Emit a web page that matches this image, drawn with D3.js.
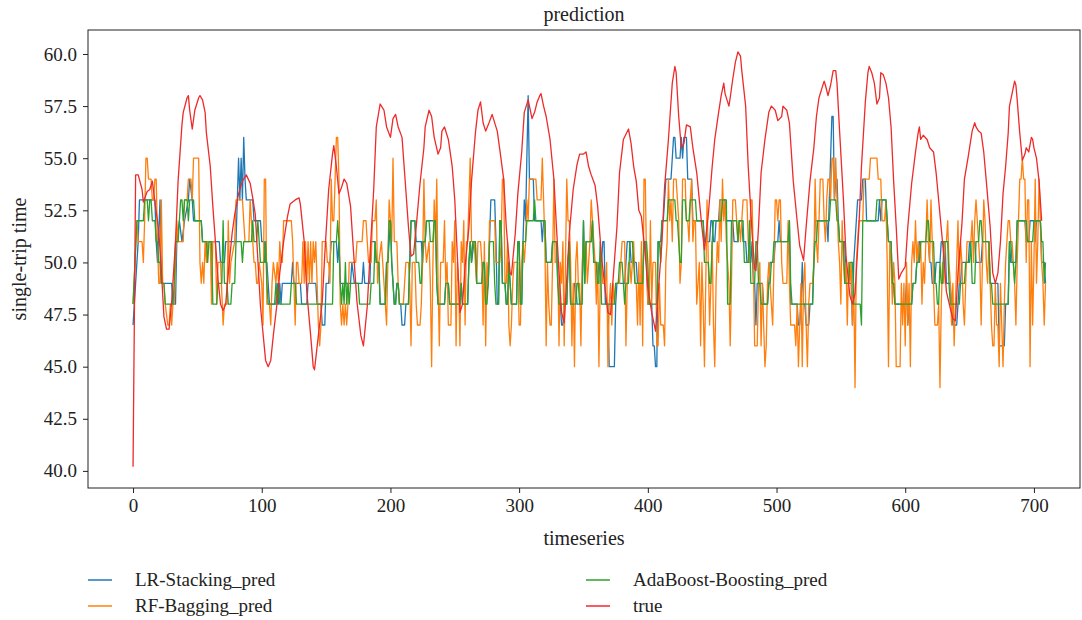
<!DOCTYPE html>
<html>
<head>
<meta charset="utf-8">
<script src="https://cdnjs.cloudflare.com/ajax/libs/d3/7.8.5/d3.min.js"></script>
<style>
  body { margin: 0; background: #fff; }
  svg text { font-family: "Liberation Serif", "DejaVu Serif", serif; fill: #222; }
</style>
</head>
<body>
<div id="chart-area"></div>
<script>
// prediction vs true single-trip time, values as [timestep, value]

var lrStacking = [[0,47],[3,50],[4,51],[5,53],[17,53],[18,51],[19,50],[21,53],[22,49],[30,49],[31,48],[33,48],[34,51],[36,52],[38,51],[40,52],[43,53],[44,54],[46,53],[47,52],[53,52],[54,51],[67,51],[68,50],[71,50],[72,51],[80,51],[81,53],[82,55],[83,53],[84,55],[85,53],[86,56],[87,54],[88,53],[93,53],[94,52],[99,52],[100,51],[102,51],[103,50],[104,50],[105,49],[106,48],[111,48],[112,49],[113,48],[114,49],[115,48],[116,49],[123,49],[124,50],[125,49],[130,49],[131,48],[135,48],[136,49],[142,49],[143,48],[146,48],[147,47],[149,47],[150,49],[152,49],[153,50],[154,51],[158,51],[159,50],[160,51],[161,49],[169,49],[170,50],[172,49],[178,49],[179,50],[180,49],[184,49],[185,51],[188,51],[189,50],[191,50],[192,48],[196,48],[197,50],[198,50],[200,52],[201,50],[203,48],[204,48],[205,49],[206,49],[207,48],[208,48],[209,47],[211,47],[212,48],[214,48],[215,50],[216,52],[219,52],[220,51],[224,51],[225,50],[226,51],[227,51],[228,52],[235,52],[236,49],[237,48],[242,48],[243,49],[245,49],[246,48],[254,48],[255,49],[256,48],[260,48],[261,50],[262,51],[263,50],[265,51],[266,51],[267,49],[271,49],[272,50],[273,50],[274,48],[276,49],[277,51],[278,53],[281,53],[282,51],[283,48],[284,48],[285,52],[286,52],[287,49],[289,49],[290,48],[291,48],[292,50],[293,49],[294,48],[298,48],[299,51],[300,51],[301,48],[302,48],[303,51],[304,53],[305,52],[306,55],[307,58],[308,54],[311,54],[312,52],[317,52],[318,51],[319,52],[320,52],[321,50],[325,50],[326,51],[329,51],[330,49],[332,48],[333,47],[334,47],[335,48],[337,48],[338,50],[339,51],[340,48],[342,48],[343,49],[344,49],[345,48],[348,48],[349,49],[350,52],[351,49],[352,51],[356,51],[357,52],[358,50],[360,50],[361,49],[362,50],[364,50],[365,51],[366,51],[367,48],[369,48],[370,45],[374,45],[375,48],[376,49],[382,49],[383,50],[384,51],[386,51],[387,50],[391,50],[392,49],[396,49],[397,51],[398,51],[399,50],[400,48],[403,48],[404,46],[405,46],[406,45],[407,45],[408,51],[410,51],[411,52],[412,52],[413,53],[414,54],[418,54],[419,55],[420,56],[421,56],[422,55],[425,55],[426,56],[427,55],[428,56],[430,56],[431,54],[434,54],[435,52],[443,52],[444,51],[448,51],[449,52],[450,52],[451,51],[452,51],[453,52],[455,52],[456,53],[460,53],[461,52],[466,52],[467,51],[470,51],[471,52],[473,52],[474,51],[476,51],[477,50],[480,50],[481,51],[482,49],[483,49],[484,47],[485,49],[489,49],[490,48],[493,48],[494,49],[495,50],[498,50],[499,51],[501,51],[502,52],[503,51],[509,51],[510,52],[511,48],[516,48],[517,47],[518,47],[519,48],[520,50],[521,48],[522,48],[523,47],[525,47],[526,48],[528,48],[529,50],[530,52],[539,52],[540,51],[541,53],[542,55],[543,57],[544,57],[545,53],[546,54],[547,54],[548,52],[549,51],[553,51],[554,49],[558,49],[559,47],[560,50],[561,51],[562,52],[563,53],[566,53],[567,54],[569,54],[570,52],[579,52],[580,53],[581,52],[582,53],[585,53],[586,52],[587,51],[589,51],[590,49],[591,49],[592,48],[600,48],[601,49],[602,47],[603,48],[605,48],[606,49],[608,49],[609,50],[610,50],[611,51],[618,51],[619,50],[620,50],[621,49],[623,49],[624,50],[627,50],[628,51],[631,51],[632,49],[635,49],[636,48],[637,47],[640,47],[641,48],[642,49],[643,49],[644,50],[649,50],[650,51],[654,51],[655,50],[659,50],[660,51],[665,51],[666,49],[672,49],[673,46],[677,46],[678,48],[680,48],[681,51],[682,50],[686,50],[687,52],[693,52],[694,51],[696,51],[697,52],[700,52],[701,51],[702,52],[705,52],[706,50],[708,50],[709,49]];

var rfBagging = [[0,48],[3,52],[4,51],[7,51],[8,50],[9,52],[10,55],[11,55],[12,54],[14,54],[15,53],[16,53],[17,54],[18,54],[19,51],[20,49],[21,49],[22,53],[23,49],[24,49],[25,48],[27,47],[28,47],[29,48],[30,47],[31,48],[32,48],[33,50],[34,52],[35,51],[39,51],[40,53],[42,53],[43,54],[45,54],[46,53],[47,55],[51,55],[52,50],[53,49],[54,50],[55,49],[56,51],[57,50],[58,51],[60,51],[61,48],[62,51],[64,51],[65,48],[66,50],[68,50],[70,47],[71,48],[73,48],[74,52],[75,49],[76,50],[79,51],[80,53],[85,53],[86,52],[87,51],[90,51],[91,53],[92,52],[94,50],[95,50],[96,49],[97,49],[98,50],[100,49],[101,47],[102,54],[103,54],[104,48],[106,48],[107,47],[108,49],[109,50],[111,49],[112,50],[113,49],[114,51],[115,50],[116,50],[117,52],[123,52],[124,51],[125,49],[126,47],[127,50],[128,50],[129,49],[131,49],[132,51],[133,49],[134,51],[135,49],[136,51],[137,49],[138,51],[139,49],[140,51],[141,50],[142,51],[143,49],[144,47],[145,46],[146,47],[147,51],[150,51],[151,50],[152,50],[153,49],[154,54],[155,52],[156,52],[157,54],[158,56],[159,56],[160,54],[161,48],[162,47],[163,48],[164,47],[165,48],[166,47],[167,48],[168,50],[173,50],[174,51],[178,51],[179,52],[181,52],[182,51],[183,50],[185,50],[186,52],[188,52],[189,53],[190,49],[191,50],[193,51],[194,50],[196,48],[197,47],[198,50],[199,53],[200,52],[201,51],[202,55],[203,51],[205,51],[206,49],[207,48],[210,48],[211,49],[212,50],[214,50],[215,49],[216,46],[217,50],[219,50],[220,48],[221,47],[223,47],[224,48],[225,50],[226,54],[227,51],[228,50],[230,51],[231,49],[232,45],[233,50],[234,53],[235,51],[236,54],[237,49],[238,46],[239,50],[241,50],[242,52],[243,49],[244,50],[245,47],[247,47],[248,51],[249,50],[250,52],[251,46],[252,50],[253,49],[254,46],[255,51],[256,50],[257,52],[258,47],[259,51],[260,51],[261,53],[262,55],[263,51],[265,51],[266,50],[267,49],[268,51],[270,51],[271,50],[272,47],[273,51],[274,46],[275,50],[276,49],[277,52],[281,52],[282,50],[285,50],[286,51],[287,54],[288,54],[289,49],[290,49],[291,51],[292,47],[293,46],[294,47],[295,49],[296,50],[299,50],[300,47],[301,47],[302,50],[303,51],[304,50],[305,51],[306,53],[307,52],[308,54],[313,54],[314,53],[317,53],[318,55],[319,53],[320,51],[321,46],[322,50],[323,48],[324,47],[325,47],[326,50],[327,54],[328,50],[330,50],[331,46],[332,50],[333,49],[334,51],[335,46],[336,50],[337,54],[338,52],[339,52],[340,50],[341,46],[342,49],[343,45],[344,50],[345,51],[346,49],[347,49],[348,46],[349,50],[350,51],[351,50],[352,51],[353,49],[354,50],[355,51],[356,53],[357,52],[358,51],[359,50],[360,48],[361,50],[362,45],[363,49],[364,50],[365,49],[367,49],[368,50],[369,45],[370,48],[371,49],[372,47],[373,49],[374,48],[375,49],[378,49],[379,50],[380,51],[382,51],[383,46],[384,49],[385,50],[386,50],[387,49],[388,50],[389,51],[390,49],[391,49],[392,47],[393,50],[394,47],[395,51],[396,46],[397,54],[398,54],[399,50],[400,48],[401,48],[402,52],[403,48],[404,50],[406,50],[407,46],[408,46],[409,49],[410,47],[412,47],[413,46],[414,50],[415,51],[416,54],[417,52],[418,53],[419,51],[420,54],[422,54],[423,53],[424,52],[425,49],[426,50],[427,54],[429,54],[430,52],[431,52],[432,51],[433,53],[434,54],[435,51],[436,52],[437,52],[438,48],[439,49],[440,50],[441,46],[442,50],[443,48],[444,45],[445,49],[446,53],[447,50],[448,47],[449,49],[450,51],[451,47],[452,45],[453,49],[454,51],[455,50],[456,53],[457,51],[458,54],[459,52],[460,53],[461,51],[462,50],[463,49],[464,46],[465,49],[466,53],[468,53],[469,52],[470,51],[471,52],[472,51],[473,52],[474,53],[477,53],[478,51],[479,50],[480,53],[481,53],[482,50],[483,46],[485,46],[486,49],[487,50],[488,46],[489,49],[490,47],[491,45],[492,46],[493,49],[494,50],[495,49],[496,48],[497,47],[498,50],[499,53],[500,53],[501,52],[502,53],[503,53],[504,50],[505,49],[508,49],[509,52],[510,49],[511,47],[514,47],[515,46],[516,48],[517,45],[518,47],[519,49],[520,45],[521,49],[522,50],[523,47],[524,45],[525,48],[526,49],[528,49],[529,50],[530,54],[531,51],[532,50],[533,52],[534,54],[536,54],[537,52],[538,51],[539,53],[540,54],[541,54],[542,53],[543,55],[544,55],[545,53],[546,55],[547,53],[548,51],[549,50],[550,48],[551,52],[552,50],[553,49],[554,50],[555,47],[556,50],[557,49],[558,50],[559,47],[560,49],[561,44],[562,50],[563,51],[564,52],[567,52],[568,54],[572,54],[573,55],[578,55],[579,54],[581,54],[582,52],[584,52],[585,53],[586,50],[587,45],[588,51],[589,50],[590,48],[591,50],[592,49],[593,45],[596,45],[597,49],[598,47],[599,49],[600,46],[601,50],[602,47],[603,49],[604,45],[605,50],[606,51],[607,50],[608,52],[609,50],[610,51],[611,50],[612,51],[613,48],[614,50],[615,49],[616,51],[617,53],[618,51],[619,50],[620,53],[621,51],[622,49],[623,47],[625,47],[626,48],[627,44],[628,48],[629,50],[630,49],[631,51],[632,51],[633,52],[634,50],[635,49],[636,47],[637,49],[638,46],[639,48],[640,50],[641,52],[642,49],[643,51],[644,50],[645,48],[646,47],[647,49],[648,51],[651,51],[652,52],[653,50],[654,52],[655,53],[656,52],[657,51],[658,50],[659,47],[660,50],[661,53],[662,52],[663,50],[664,49],[665,51],[666,49],[667,47],[668,46],[669,46],[670,49],[671,47],[672,47],[673,45],[674,49],[675,47],[676,45],[677,48],[678,50],[679,51],[680,52],[681,52],[682,51],[683,51],[684,50],[685,49],[686,47],[687,50],[688,52],[689,54],[690,54],[691,55],[692,54],[693,54],[694,50],[695,53],[696,53],[697,45],[698,51],[699,47],[700,50],[701,54],[702,49],[703,51],[704,54],[705,52],[706,50],[707,49],[708,47],[709,49]];

var adaBoosting = [[0,48],[3,52],[8,52],[9,53],[11,53],[12,52],[13,53],[14,53],[15,52],[17,52],[18,51],[19,51],[20,50],[21,50],[22,49],[24,49],[25,48],[31,48],[32,49],[33,51],[35,51],[36,52],[37,53],[38,53],[39,52],[40,53],[42,53],[43,52],[44,53],[47,53],[48,52],[53,52],[54,51],[57,51],[58,50],[59,51],[61,51],[62,48],[65,48],[66,49],[69,49],[70,52],[71,49],[73,49],[74,48],[76,48],[77,49],[79,49],[80,51],[84,51],[85,50],[86,51],[92,51],[93,52],[94,51],[96,51],[97,52],[98,51],[99,50],[102,50],[103,51],[104,49],[105,48],[110,48],[111,49],[112,48],[113,49],[114,48],[122,48],[123,49],[126,49],[127,48],[155,48],[156,51],[158,51],[159,52],[160,51],[161,49],[162,48],[163,49],[164,48],[165,50],[166,48],[167,49],[168,48],[169,49],[175,49],[176,48],[184,48],[185,49],[187,49],[188,51],[189,50],[191,50],[192,48],[196,48],[197,50],[198,50],[199,52],[200,52],[201,50],[202,49],[203,48],[204,48],[205,49],[206,49],[207,48],[214,48],[215,50],[216,52],[219,52],[220,50],[222,50],[223,49],[224,49],[225,51],[227,51],[228,52],[230,52],[231,51],[233,51],[234,52],[235,52],[236,49],[237,48],[242,48],[243,49],[245,49],[246,48],[254,48],[255,49],[256,48],[260,48],[261,50],[262,51],[263,50],[264,51],[266,51],[267,49],[271,49],[272,50],[273,50],[274,48],[275,48],[276,49],[277,51],[280,51],[281,49],[282,48],[284,48],[285,52],[286,52],[287,49],[289,49],[290,48],[291,48],[292,50],[293,49],[294,48],[298,48],[299,51],[300,51],[301,48],[302,48],[303,51],[305,51],[306,52],[311,52],[312,53],[313,52],[320,52],[321,50],[325,50],[326,51],[329,51],[330,49],[331,48],[337,48],[338,50],[339,51],[340,48],[344,48],[345,49],[346,49],[347,48],[349,48],[350,52],[351,49],[352,51],[356,51],[357,52],[358,50],[360,50],[361,49],[362,49],[363,51],[364,48],[374,48],[375,49],[377,49],[378,50],[380,50],[381,49],[382,48],[383,49],[385,49],[386,51],[388,51],[389,50],[390,49],[396,49],[397,51],[399,51],[400,50],[401,48],[407,48],[408,51],[409,51],[410,50],[411,52],[415,52],[416,53],[421,53],[422,52],[423,52],[424,51],[425,50],[426,50],[427,53],[429,53],[430,52],[432,52],[433,53],[437,53],[438,52],[443,52],[444,50],[447,50],[448,49],[449,49],[450,51],[451,52],[457,52],[458,53],[461,53],[462,48],[464,48],[465,52],[469,52],[470,51],[471,52],[474,52],[475,50],[478,50],[479,52],[480,49],[483,49],[484,51],[485,51],[486,49],[487,49],[488,48],[493,48],[494,49],[495,49],[496,50],[497,50],[498,51],[509,51],[510,52],[511,49],[512,48],[528,48],[529,50],[530,51],[531,51],[532,52],[541,52],[542,53],[546,53],[547,52],[548,52],[549,51],[552,51],[553,49],[556,49],[557,50],[559,50],[560,48],[565,48],[566,47],[567,52],[577,52],[578,53],[585,53],[586,52],[587,51],[589,51],[590,49],[591,49],[592,48],[605,48],[606,49],[608,49],[609,50],[611,50],[612,51],[616,51],[617,52],[618,52],[619,51],[622,51],[623,49],[624,49],[625,48],[626,48],[627,50],[628,49],[629,49],[630,51],[633,51],[634,49],[635,48],[642,48],[643,49],[646,49],[647,50],[650,50],[651,51],[652,49],[654,49],[655,51],[657,51],[658,52],[659,52],[660,51],[665,51],[666,49],[667,49],[668,48],[680,48],[681,51],[682,51],[683,50],[684,50],[685,49],[686,50],[687,52],[694,52],[695,51],[699,51],[700,52],[705,52],[706,51],[707,51],[708,49],[709,50]];

var trueValues = [[0,40.2],[2,54.2],[4,54.2],[7,53.5],[8,52.9],[11,53.4],[13,53.5],[15,53.9],[17,52.9],[20,51.5],[22,49.6],[24,47.4],[26,46.8],[28,46.8],[30,48.1],[33,51],[35,53.9],[38,56.6],[39,57.2],[42,57.9],[43,58],[44,57.3],[46,56.4],[48,57.3],[51,57.9],[52,58],[54,57.8],[56,57.2],[57,56.2],[60,54.6],[62,52.7],[64,51],[66,49.2],[68,48],[70,47.7],[72,48],[74,49.5],[77,51.4],[79,52.3],[82,53.3],[85,53.9],[88,54.2],[91,53.8],[93,53.1],[95,52.3],[99,47.9],[103,45.3],[105,45],[107,45.3],[109,46.5],[112,48.1],[114,49.5],[117,51],[120,52.2],[122,52.8],[126,53],[129,53.1],[130,52.8],[133,51],[135,48.6],[138,46.5],[140,45],[141,44.85],[144,46.5],[147,48.1],[149,50.4],[152,53.5],[155,55.2],[156,55.6],[158,54.6],[160,53.3],[162,53.6],[164,54],[166,53.8],[169,52.7],[171,50.8],[174,48.1],[177,46.5],[179,46],[182,47.9],[184,50.2],[187,53.5],[189,56.5],[192,57.6],[194,57.4],[195,57.3],[197,56.5],[200,56],[202,56.9],[204,57.1],[206,56.5],[209,56],[211,54.3],[214,51.7],[216,50.3],[218,50.4],[220,51.7],[223,53.8],[226,55.5],[227,56.5],[230,57.3],[232,57],[234,56],[237,55.2],[239,55.5],[240,56.3],[242,56.5],[245,55.9],[248,54.6],[250,53],[252,50.3],[254,47.6],[256,48],[258,49.8],[261,51.7],[263,53.9],[266,56.2],[268,57.3],[270,57.7],[272,56.7],[274,56.3],[276,56.6],[279,57.1],[280,56.9],[283,56.3],[285,55.4],[288,54],[290,51.7],[293,49.5],[294,49.4],[297,51.4],[299,53.3],[302,55.3],[304,57.2],[307,57.8],[310,56.9],[312,57.2],[314,57.7],[316,58],[317,58.1],[319,57.5],[321,57],[324,55.9],[327,54],[329,51.7],[331,49.5],[333,47.6],[335,47.1],[337,49.2],[339,51.4],[342,53.5],[345,54.7],[347,55.2],[350,55.2],[352,55.3],[354,54.6],[356,54.2],[359,53.7],[361,52.7],[364,50.3],[367,48.6],[369,47.6],[371,47.5],[373,49.2],[376,51.7],[378,54.3],[381,55.9],[385,56.4],[387,55.7],[389,54.6],[391,53.9],[393,52.5],[395,52.2],[398,50.4],[400,48.8],[403,47.6],[406,46.7],[408,48.5],[411,51],[413,53.6],[416,55.9],[419,58.6],[421,59.4],[422,59.1],[424,57],[426,55.5],[428,55.7],[430,56.6],[433,56.5],[435,55.5],[438,54.3],[440,53],[442,51.7],[444,50.6],[447,52.3],[450,54.6],[452,55.9],[455,57.2],[457,58],[459,58.6],[460,58.1],[463,57.5],[464,57.9],[466,58.8],[468,59.6],[470,60.1],[472,59.9],[473,59.2],[476,57.5],[478,54.6],[481,51.4],[483,49.7],[484,49.6],[486,51.7],[488,54.3],[491,55.9],[494,57.2],[496,57.5],[499,57.3],[501,56.8],[504,57],[505,57.5],[508,57.3],[510,56.7],[513,53.9],[516,52],[518,50.8],[521,50.1],[523,51.7],[526,53.9],[529,55.5],[531,57],[533,57.9],[535,58.3],[537,58.7],[538,58.5],[540,58],[542,58.5],[544,59.2],[546,59.2],[547,58.6],[549,56.3],[552,53],[554,50.3],[557,48.4],[559,48],[561,48.5],[564,51.7],[566,54.6],[569,57.7],[571,59.1],[572,59.4],[574,59.1],[576,58.6],[578,57.6],[580,57.9],[581,59.1],[583,59],[585,58.6],[587,57.9],[589,56.5],[591,53.9],[593,51.7],[595,49.2],[597,49.5],[600,49.8],[602,51.7],[605,53.8],[608,55.3],[610,56.2],[611,56.5],[612,55.9],[614,56.1],[617,55.9],[619,55.5],[622,55.3],[624,54.3],[627,52.3],[630,50.3],[632,48.6],[635,47.8],[637,47.3],[639,47.2],[641,49.5],[644,51.8],[646,54],[649,55.1],[652,56.3],[654,56.7],[655,56.5],[657,56.3],[659,56.2],[661,55.3],[663,53.9],[666,51.7],[668,49.5],[670,49],[672,49.5],[674,51],[676,53.3],[678,54.6],[680,56.2],[681,57.5],[683,58.1],[685,58.7],[686,58.5],[687,57.8],[689,56.2],[691,54.9],[693,55.2],[694,55.5],[696,55.3],[698,56],[699,55.9],[700,55.5],[702,55],[704,53.9],[706,52]];

var seriesNames = ["LR-Stacking_pred", "RF-Bagging_pred", "AdaBoost-Boosting_pred", "true"];
var seriesColors = ["#1f77b4", "#ff7f0e", "#2ca02c", "#ee2a2a"];
var xTicks = [0, 100, 200, 300, 400, 500, 600, 700];
var yTicks = [40, 42.5, 45, 47.5, 50, 52.5, 55, 57.5, 60];

var width = 1082, height = 620;
var plot = { left: 88, right: 1080, top: 30, bottom: 488 };

var svg = d3.select("#chart-area")
    .append("svg")
    .attr("width", width)
    .attr("height", height);

var x = d3.scaleLinear()
    .domain([-35, 735.8])
    .range([plot.left, plot.right]);

var y = d3.scaleLinear()
    .domain([39.18, 61.15])
    .range([plot.bottom, plot.top]);

var line = d3.line()
    .x(function(d) { return x(d[0]); })
    .y(function(d) { return y(d[1]); });

var clip = svg.append("clipPath").attr("id", "clip")
  .append("rect")
    .attr("x", plot.left).attr("y", plot.top)
    .attr("width", plot.right - plot.left)
    .attr("height", plot.bottom - plot.top);

var lines = svg.append("g").attr("clip-path", "url(#clip)");
[lrStacking, rfBagging, adaBoosting, trueValues].forEach(function(data, i) {
  lines.append("path")
      .datum(data)
      .attr("fill", "none")
      .attr("stroke", seriesColors[i])
      .attr("stroke-width", 1.3)
      .attr("stroke-linejoin", "round")
      .attr("d", line);
});

// axes
var xAxis = svg.append("g")
    .attr("transform", "translate(0," + plot.bottom + ")")
    .call(d3.axisBottom(x).tickValues(xTicks).tickSize(5).tickPadding(6).tickFormat(d3.format("d")));

var yAxis = svg.append("g")
    .attr("transform", "translate(" + plot.left + ",0)")
    .call(d3.axisLeft(y).tickValues(yTicks).tickSize(5).tickPadding(6).tickFormat(d3.format(".1f")));

[xAxis, yAxis].forEach(function(a) {
  a.select(".domain").remove();
  a.selectAll("line").attr("stroke", "#222");
  a.selectAll("text").attr("font-size", 19).attr("fill", "#222")
      .style("font-family", "'Liberation Serif', serif");
});

// frame
svg.append("rect")
    .attr("x", plot.left).attr("y", plot.top)
    .attr("width", plot.right - plot.left)
    .attr("height", plot.bottom - plot.top)
    .attr("fill", "none")
    .attr("stroke", "#222")
    .attr("stroke-width", 1);

svg.append("text")
    .attr("x", (plot.left + plot.right) / 2)
    .attr("y", 21)
    .attr("text-anchor", "middle")
    .attr("font-size", 20)
    .text("prediction");

svg.append("text")
    .attr("x", (plot.left + plot.right) / 2)
    .attr("y", 545)
    .attr("text-anchor", "middle")
    .attr("font-size", 20)
    .text("timeseries");

svg.append("text")
    .attr("transform", "translate(26," + (plot.top + plot.bottom) / 2 + ") rotate(-90)")
    .attr("text-anchor", "middle")
    .attr("font-size", 20)
    .text("single-trip time");

// legend, two columns
var legendPos = [[88, 580], [88, 606], [586, 580], [586, 606]];
seriesNames.forEach(function(name, i) {
  var g = svg.append("g").attr("transform", "translate(" + legendPos[i][0] + "," + legendPos[i][1] + ")");
  g.append("line")
      .attr("x1", 0).attr("x2", 24)
      .attr("stroke", seriesColors[i])
      .attr("stroke-width", 1.5);
  g.append("text")
      .attr("x", 47)
      .attr("y", 6)
      .attr("font-size", 19)
      .text(name);
});
</script>
</body>
</html>
